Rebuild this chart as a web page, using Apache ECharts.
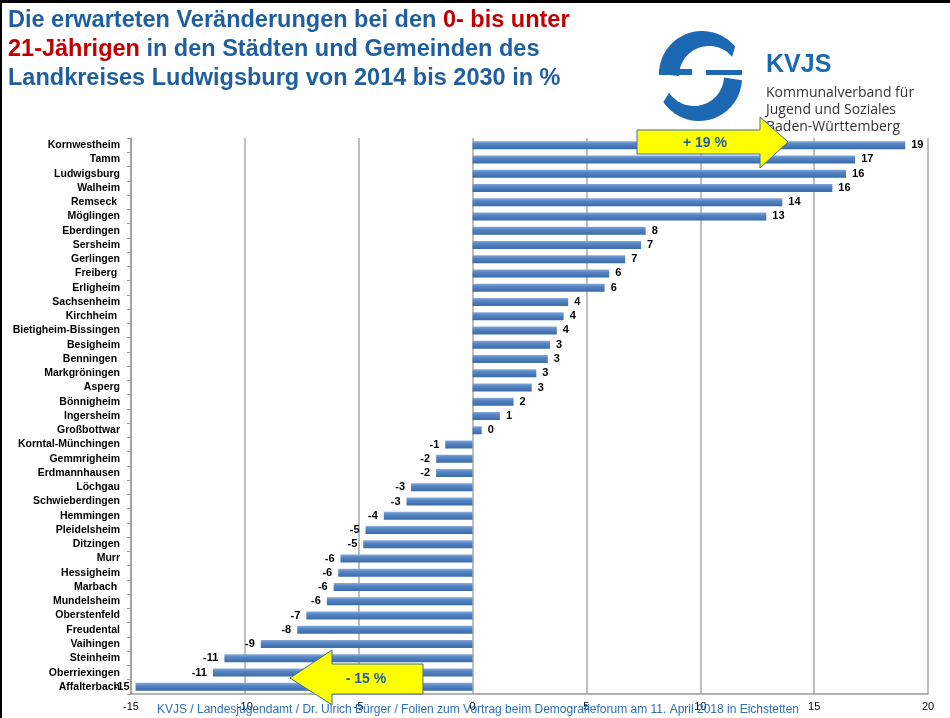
<!DOCTYPE html>
<html><head><meta charset="utf-8">
<script src="https://cdn.jsdelivr.net/npm/echarts@6/dist/echarts.min.js"></script>
<style>html,body{margin:0;padding:0;background:#fff}#c{width:950px;height:718px}</style>
</head><body><div id="c"></div>
<script>
const categories = ["Kornwestheim","Tamm","Ludwigsburg","Walheim","Remseck ","Möglingen","Eberdingen","Sersheim","Gerlingen","Freiberg ","Erligheim","Sachsenheim","Kirchheim ","Bietigheim-Bissingen","Besigheim","Benningen ","Markgröningen","Asperg","Bönnigheim","Ingersheim","Großbottwar","Korntal-Münchingen","Gemmrigheim","Erdmannhausen","Löchgau","Schwieberdingen","Hemmingen","Pleidelsheim","Ditzingen","Murr","Hessigheim","Marbach ","Mundelsheim","Oberstenfeld","Freudental","Vaihingen","Steinheim","Oberriexingen","Affalterbach"];
const values = [19.0,16.8,16.4,15.8,13.6,12.9,7.6,7.4,6.7,6.0,5.8,4.2,4.0,3.7,3.4,3.3,2.8,2.6,1.8,1.2,0.4,-1.2,-1.6,-1.6,-2.7,-2.9,-3.9,-4.7,-4.8,-5.8,-5.9,-6.1,-6.4,-7.3,-7.7,-9.3,-10.9,-11.4,-14.8];
const xMin = -15, xMax = 20, xStep = 5;
const titleLines = ["Die erwarteten Veränderungen bei den {r|0- bis unter}", "{r|21-Jährigen} in den Städten und Gemeinden des", "Landkreises Ludwigsburg von 2014 bis 2030 in %"];
const footer = "KVJS / Landesjugendamt / Dr. Ulrich Bürger / Folien zum Vortrag beim Demografieforum am 11. April 2018 in Eichstetten";
const logoLines = ["Kommunalverband für", "Jugend und Soziales", "Baden-Württemberg"];
const arrowUp = "+ 19 %", arrowDown = "- 15 %";

const chart = echarts.init(document.getElementById('c'), null, {renderer: 'canvas'});
const F = '"Liberation Sans", Arial, sans-serif';
const BLUE = '#1F5F9F', LOGO = '#1C68B3';

// band between two eccentric arcs (logo decoration)
function band(oc, or, ic, ir, a0, a1) {
  const pts = [], n = 40;
  for (let i = 0; i <= n; i++) { const a = a0 + (a1 - a0) * i / n; pts.push([oc[0] + or * Math.cos(a), oc[1] + or * Math.sin(a)]); }
  for (let i = n; i >= 0; i--) { const a = a0 + (a1 - a0) * i / n; pts.push([ic[0] + ir * Math.cos(a), ic[1] + ir * Math.sin(a)]); }
  return pts;
}

const barData = values.map(v => ({
  value: v,
  label: {position: v >= 0 ? 'right' : 'left'}
}));

chart.setOption({
  animation: false,
  backgroundColor: '#fff',
  title: {
    left: 3, top: 1,
    text: titleLines.join('\n'),
    textStyle: {
      fontFamily: F, fontSize: 23.5, fontWeight: 'bold', color: BLUE, lineHeight: 29,
      rich: {r: {fontFamily: F, fontSize: 23.5, fontWeight: 'bold', color: '#C00000', lineHeight: 29}}
    }
  },
  grid: {left: 131, right: 22, top: 138, bottom: 24, containLabel: false},
  xAxis: {
    type: 'value', min: xMin, max: xMax, interval: xStep,
    axisLine: {show: true, lineStyle: {color: '#9a9a9a', width: 1.5}},
    axisTick: {show: false},
    splitLine: {show: true, lineStyle: {color: '#a8a8a8', width: 1.5}},
    axisLabel: {color: '#000', fontFamily: F, fontSize: 11, margin: 7}
  },
  yAxis: [{
    type: 'category', inverse: true, data: categories, position: 'left',
    axisLine: {show: false}, axisTick: {show: false},
    axisLabel: {interval: 0, color: '#000', fontFamily: F, fontSize: 10.5, fontWeight: 'bold', margin: 11}
  }, {
    type: 'category', inverse: true, data: categories, position: 'left',
    axisLine: {show: true, onZero: true, lineStyle: {color: '#9a9a9a', width: 1.5}},
    axisTick: {show: true, interval: 0, length: 4, lineStyle: {color: '#9a9a9a'}},
    axisLabel: {show: false, interval: 0}, splitLine: {show: false}
  }],
  series: [{
    type: 'bar', yAxisIndex: 0, data: barData, barWidth: 8,
    itemStyle: {
      color: new echarts.graphic.LinearGradient(0, 0, 0, 1, [
        {offset: 0, color: '#86a9d8'}, {offset: 0.35, color: '#5585c4'}, {offset: 1, color: '#3a6aa8'}
      ])
    },
    label: {
      show: true, color: '#000', fontFamily: F, fontSize: 11, fontWeight: 'bold', distance: 6,
      formatter: p => String(Math.round(p.value))
    }
  }],
  graphic: [
    {type: 'rect', z: 200, shape: {x: 0, y: 0, width: 950, height: 3}, style: {fill: '#000'}},
    {type: 'rect', z: 200, shape: {x: 0, y: 0, width: 2, height: 718}, style: {fill: '#000'}},
    // logo
    {type: 'polygon', z: 50, shape: {points: band([702, 74], 43, [709, 76], 30, Math.PI, Math.PI * 1.78)}, style: {fill: LOGO}},
    {type: 'polygon', z: 50, shape: {points: band([699, 78], 43, [694, 76], 30, 0.05, 2.55)}, style: {fill: LOGO}},
    {type: 'rect', z: 50, shape: {x: 659, y: 69, width: 33, height: 6}, style: {fill: LOGO}},
    {type: 'rect', z: 50, shape: {x: 706, y: 70, width: 36, height: 5}, style: {fill: LOGO}},
    {type: 'text', z: 50, left: 766, top: 53, style: {text: 'KVJS', fill: LOGO, font: 'bold 25px ' + F}},
    {type: 'text', z: 50, left: 766, top: 85, style: {text: logoLines.join('\n'), fill: '#333', font: '14px "Open Sans", sans-serif', lineHeight: 17}},
    // arrows
    {type: 'polygon', z: 100, shape: {points: [[637,130],[760,130],[760,117],[788,142],[760,168],[760,154],[637,154]]}, style: {fill: '#FFFF00', stroke: '#3b6cb0', lineWidth: 1}},
    {type: 'text', z: 101, x: 705, y: 143, style: {text: arrowUp, fill: BLUE, font: 'bold 14px ' + F, align: 'center', verticalAlign: 'middle'}},
    {type: 'polygon', z: 100, shape: {points: [[423,664],[332,664],[332,650],[290,678],[332,705],[332,694],[423,694]]}, style: {fill: '#FFFF00', stroke: '#3b6cb0', lineWidth: 1}},
    {type: 'text', z: 101, x: 366, y: 679, style: {text: arrowDown, fill: BLUE, font: 'bold 14px ' + F, align: 'center', verticalAlign: 'middle'}},
    {type: 'text', z: 150, x: 478, y: 710, style: {text: footer, fill: '#2E6FB4', font: '12px ' + F, align: 'center', verticalAlign: 'middle'}}
  ]
});
</script></body></html>
